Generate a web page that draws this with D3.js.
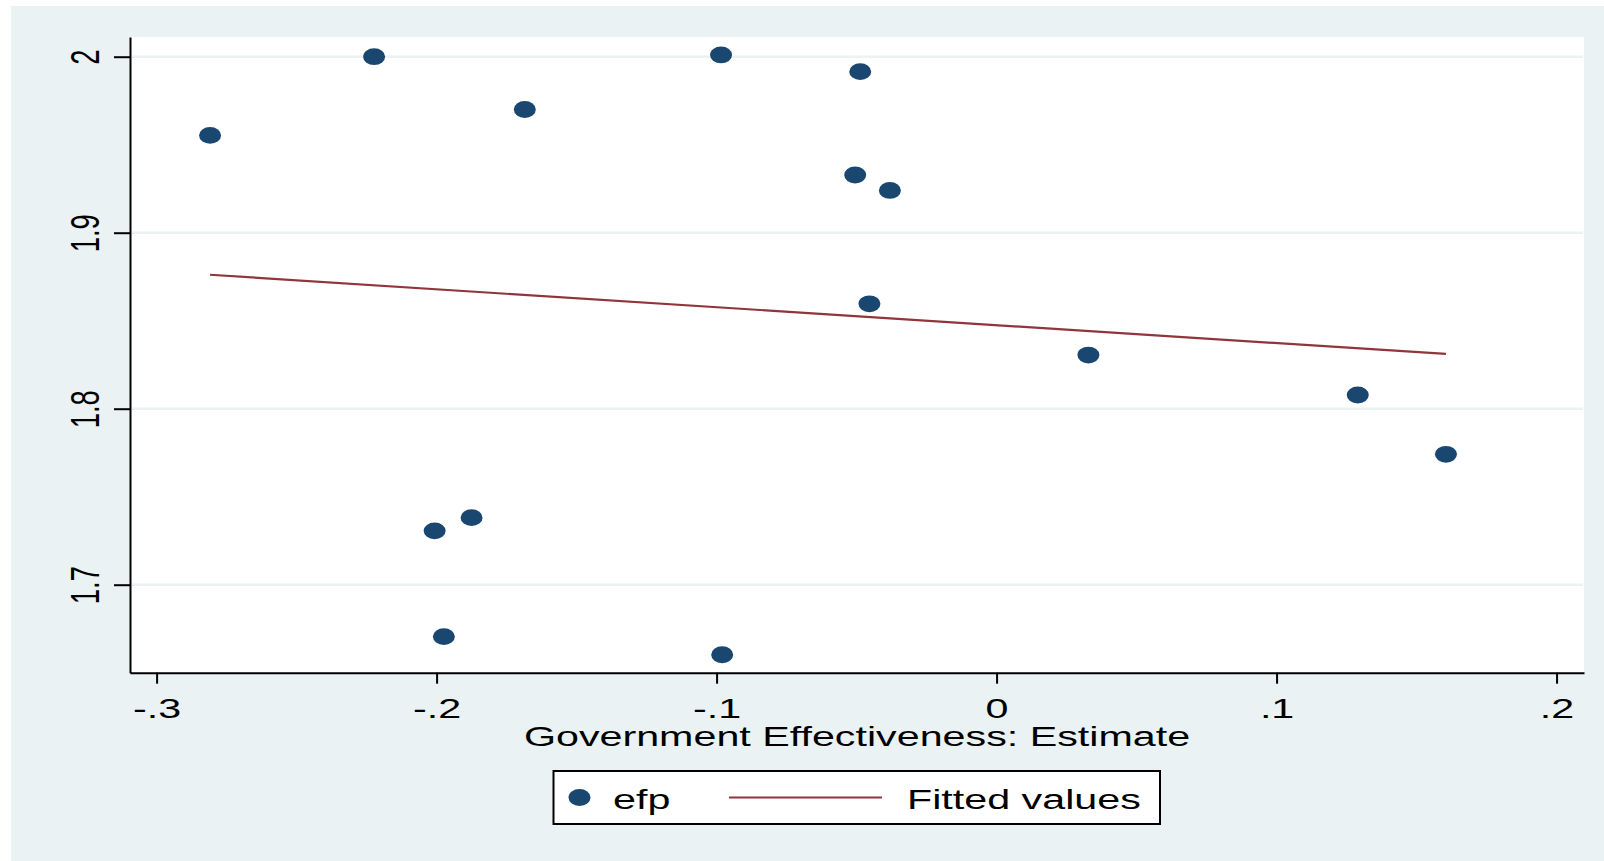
<!doctype html>
<html lang="en">
<head>
  <meta charset="utf-8">
  <style>
    html, body { margin: 0; padding: 0; background: #fff; }
    svg text { font-family: "Liberation Sans", Arial, Helvetica, sans-serif; fill: #000; }
  </style>
</head>
<body>
  <script src="https://d3js.org/d3.v7.min.js"></script>
  <div id="chart"></div>
  <script>
    // data
    var govEff = [-0.2809, -0.2223, -0.1685, -0.0984, -0.0487, -0.0505, -0.0381, -0.0454,
                  0.0328, 0.1290, 0.1605, -0.2007, -0.1875, -0.1974, -0.0980];
    var efp    = [1.9553, 2.0000, 1.9700, 2.0010, 1.9915, 1.9328, 1.9240, 1.8596,
                  1.8305, 1.8078, 1.7741, 1.7306, 1.7381, 1.6705, 1.6602];
    // fitted values (end points of the drawn line)
    var fitX = [-0.2809, 0.1605];
    var fitY = [1.8761, 1.8311];

    var xTicks = [-0.3, -0.2, -0.1, 0, 0.1, 0.2];
    var xTickLabels = ["-.3", "-.2", "-.1", "0", ".1", ".2"];
    var yTicks = [1.7, 1.8, 1.9, 2];
    var yTickLabels = ["1.7", "1.8", "1.9", "2"];

    var xTitle = "Government Effectiveness: Estimate";
    var legendLabels = ["efp", "Fitted values"];

    var width = 1604, height = 861;
    var plot = {left: 130, right: 1584, top: 37, bottom: 672.7};
    var sx = 1.5;          // the picture is stretched sideways
    var fs = 27.5;

    var navy = "#1a476f", maroon = "#90353b", bg = "#eaf2f3";

    var svg = d3.select("#chart").append("svg")
        .attr("width", width).attr("height", height);

    // outer background
    svg.append("rect").attr("x", 11).attr("y", 6)
       .attr("width", width - 11).attr("height", height - 6).attr("fill", bg);
    // plot region
    svg.append("rect").attr("x", plot.left).attr("y", plot.top)
       .attr("width", plot.right - plot.left).attr("height", plot.bottom - plot.top)
       .attr("fill", "#fff");

    var x = d3.scaleLinear().domain([-0.3095, 0.2098]).range([plot.left, plot.right]);
    var y = d3.scaleLinear().domain([1.65, 2.0112]).range([plot.bottom, plot.top]);

    // grid
    svg.append("g").selectAll("line").data(yTicks).join("line")
       .attr("x1", plot.left + 1).attr("x2", plot.right - 1)
       .attr("y1", d => y(d)).attr("y2", d => y(d))
       .attr("stroke", bg).attr("stroke-width", 2.5);

    // y axis
    var yAxis = svg.append("g").attr("transform", "translate(" + plot.left + ",0)")
       .call(d3.axisLeft(y).tickValues(yTicks).tickSize(16).tickSizeOuter(0)
             .tickFormat((d, i) => yTickLabels[i]));
    yAxis.selectAll("path, line").attr("stroke", "#000").attr("stroke-width", 2);
    yAxis.selectAll("text")
       .attr("x", null).attr("dy", null).attr("fill", "#000")
       .attr("font-size", fs).attr("text-anchor", "middle")
       .attr("transform", "translate(-31,0) scale(" + sx + ",1) rotate(-90)");

    // x axis
    var xAxis = svg.append("g").attr("transform", "translate(0," + plot.bottom + ")")
       .call(d3.axisBottom(x).tickValues(xTicks).tickSize(11).tickSizeOuter(0)
             .tickFormat((d, i) => xTickLabels[i]));
    xAxis.selectAll("path, line").attr("stroke", "#000").attr("stroke-width", 2);
    xAxis.selectAll("text")
       .attr("y", null).attr("dy", null).attr("fill", "#000")
       .attr("font-size", fs)
       .attr("transform", "translate(0,45) scale(" + sx + ",1)");
    xAxis.attr("font-family", null);
    yAxis.attr("font-family", null);

    // axis title
    svg.append("text")
       .attr("transform", "translate(" + ((plot.left + plot.right) / 2) + ",745.5) scale(" + sx + ",1)")
       .attr("text-anchor", "middle").attr("font-size", fs)
       .text(xTitle);

    // fitted line
    var line = d3.line().x(d => x(d[0])).y(d => y(d[1]));
    svg.append("path").datum(d3.zip(fitX, fitY))
       .attr("d", line).attr("fill", "none")
       .attr("stroke", maroon).attr("stroke-width", 2.2);

    // points
    svg.append("g").selectAll("ellipse").data(d3.zip(govEff, efp)).join("ellipse")
       .attr("cx", d => x(d[0])).attr("cy", d => y(d[1]))
       .attr("rx", 11).attr("ry", 8.4).attr("fill", navy);

    // legend
    var lg = svg.append("g");
    lg.append("rect").attr("x", 553.5).attr("y", 771)
      .attr("width", 606.5).attr("height", 53)
      .attr("fill", "#fff").attr("stroke", "#000").attr("stroke-width", 2);
    lg.append("ellipse").attr("cx", 579.5).attr("cy", 797.5)
      .attr("rx", 11).attr("ry", 8.4).attr("fill", navy);
    lg.append("text").attr("transform", "translate(613,809) scale(" + sx + ",1)")
      .attr("font-size", fs).text(legendLabels[0]);
    lg.append("line").attr("x1", 729).attr("x2", 882).attr("y1", 797.5).attr("y2", 797.5)
      .attr("stroke", maroon).attr("stroke-width", 2.2);
    lg.append("text").attr("transform", "translate(907,809) scale(" + sx + ",1)")
      .attr("font-size", fs).text(legendLabels[1]);
  </script>
</body>
</html>
